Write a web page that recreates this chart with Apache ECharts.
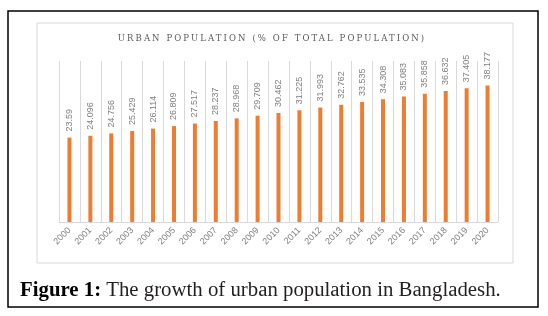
<!DOCTYPE html>
<html>
<head>
<meta charset="utf-8">
<script src="https://cdn.jsdelivr.net/npm/echarts@6/dist/echarts.min.js"></script>
<style>
  html, body { margin: 0; padding: 0; background: #fff; }
  #wrap { position: relative; width: 548px; height: 316px; }
  #chart { width: 548px; height: 316px; }
  /* 标题用 HTML 画，方便加字间距 */
  #title {
    position: absolute; left: 0; width: 544px; top: 32px;
    text-align: center;
    font-family: "DejaVu Serif", "Liberation Serif", serif;
    font-size: 8.5px; letter-spacing: 2.1px; color: #595959;
    line-height: 12px;
  }
</style>
</head>
<body>
<div id="wrap">
  <div id="chart"></div>
  <div id="title">URBAN POPULATION (% OF TOTAL POPULATION)</div>
</div>
<script>
// 年份
const years = ['2000', '2001', '2002', '2003', '2004', '2005', '2006', '2007', '2008', '2009', '2010',
  '2011', '2012', '2013', '2014', '2015', '2016', '2017', '2018', '2019', '2020'];
// 城市人口占比 (%)
const urbanShare = [23.59, 24.096, 24.756, 25.429, 26.114, 26.809, 27.517, 28.237, 28.968, 29.709, 30.462,
  31.225, 31.993, 32.762, 33.535, 34.308, 35.083, 35.858, 36.632, 37.405, 38.177];

const chart = echarts.init(document.getElementById('chart'));
const option = {
  animation: false,
  grid: { left: 59, right: 50, top: 61, bottom: 94 },
  xAxis: {
    type: 'category',
    data: years,
    axisLine: { lineStyle: { color: '#d9d9d9' } },
    axisTick: { show: false },
    axisLabel: {
      interval: 0, rotate: 45, margin: 7,
      fontSize: 9, color: '#7f7f7f', fontFamily: 'Liberation Sans'
    },
    splitLine: { show: true, interval: 0, lineStyle: { color: '#d9d9d9' } }
  },
  yAxis: {
    type: 'value', min: 0, max: 45,
    show: false,
    splitLine: { show: false }
  },
  series: [
    {
      type: 'bar',
      data: urbanShare,
      barWidth: 4,
      itemStyle: { color: '#ED7D31' },
      label: {
        show: true, position: 'top', distance: 6,
        rotate: 90, align: 'left', verticalAlign: 'middle',
        fontSize: 9, color: '#7f7f7f', fontFamily: 'Liberation Sans',
        formatter: p => String(p.value)
      }
    }
  ],
  graphic: [
    // 外框
    { type: 'rect', shape: { x: 8, y: 11, width: 530, height: 296 },
      style: { fill: 'none', stroke: '#000', lineWidth: 1.5 }, silent: true },
    // 图表区域边框
    { type: 'rect', shape: { x: 37, y: 23, width: 476, height: 240 },
      style: { fill: 'none', stroke: '#d9d9d9', lineWidth: 1 }, silent: true },
    // 图注
    {
      type: 'text', left: 20, top: 280,
      style: {
        text: '{b|Figure 1:} The growth of urban population in Bangladesh.',
        font: '20.8px "Liberation Serif"',
        fill: '#231f20',
        rich: { b: { fontWeight: 'bold', fontSize: 20.8, fontFamily: 'Liberation Serif', fill: '#000' } }
      }
    }
  ]
};
chart.setOption(option);
</script>
</body>
</html>
